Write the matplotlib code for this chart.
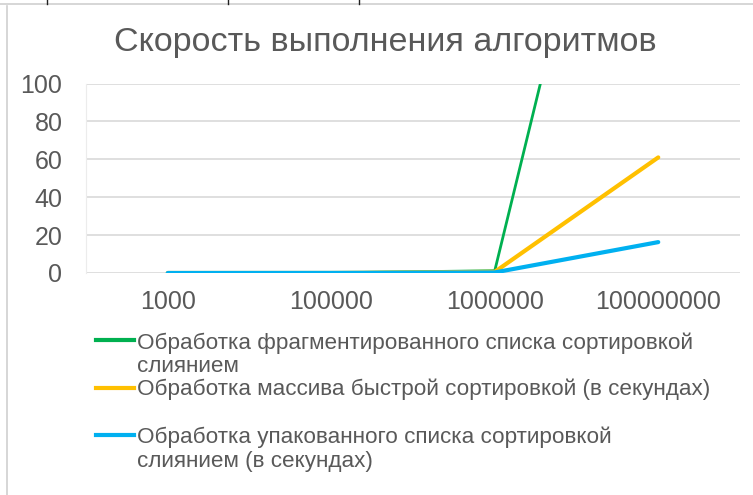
import matplotlib.pyplot as plt
from matplotlib.lines import Line2D
from matplotlib import font_manager

names = {f.name for f in font_manager.fontManager.ttflist}
font = 'Liberation Sans Narrow' if 'Liberation Sans Narrow' in names else 'Liberation Sans'
plt.rcParams['font.family'] = [font, 'DejaVu Sans']

categories = ['1000', '100000', '1000000', '100000000']
fragmented = [0.01, 0.1, 1.2, 355]
quicksort = [0.001, 0.02, 0.6, 61]
packed = [0.005, 0.05, 0.3, 16.3]
labels = [['Обработка фрагментированного списка сортировкой', 'слиянием'],
          ['Обработка массива быстрой сортировкой (в секундах)'],
          ['Обработка упакованного списка сортировкой', 'слиянием (в секундах)']]
colors = ['#00B050', '#FFC000', '#00B0F0']
widths = [2.0, 3.0, 3.0]

W, H = 753, 495
fig = plt.figure(figsize=(W / 100, H / 100), dpi=100)
ax = fig.add_axes([86 / W, 1 - 273 / H, (740 - 86) / W, (273 - 83.5) / H])

x = range(len(categories))
for vals, c, lw in zip([fragmented, quicksort, packed], colors, widths):
    ax.plot(x, vals, color=c, lw=lw, solid_capstyle='round')

ax.set_xlim(-0.5, len(categories) - 0.5)
ax.set_ylim(0, 100)
ax.set_yticks(range(0, 101, 20))
ax.grid(axis='y', color='#d9d9d9', lw=1.2)
ax.set_axisbelow(True)
for s in ax.spines.values():
    s.set_visible(False)
ax.spines['left'].set_visible(True)
ax.spines['left'].set_color('#ececec')
ax.set_xticks(list(x))
ax.set_xticklabels(categories)
ax.tick_params(length=0, labelsize=18, colors='#595959', pad=12)
ax.tick_params(axis='y', pad=17)

fig.text(385 / W, 1 - 42 / H, 'Скорость выполнения алгоритмов', ha='center', va='center',
         fontsize=24.5, color='#595959')

# legend drawn by hand (handles sit on first text line)
handle_y = [340, 387.5, 435]
text_y = [[343, 367], [389], [437, 461]]
for hy, lines, ty, c in zip(handle_y, labels, text_y, colors):
    fig.add_artist(Line2D([96 / W, 134 / W], [1 - hy / H, 1 - hy / H], color=c, lw=3,
                          transform=fig.transFigure))
    for line, y in zip(lines, ty):
        fig.text(137 / W, 1 - y / H, line, ha='left', va='center', fontsize=16.2,
                 color='#595959')

# sheet borders around the chart
fig.add_artist(Line2D([7 / W, 7 / W], [0, 1 - 6 / H], color='#d0d0d0', lw=1.2, transform=fig.transFigure))
fig.add_artist(Line2D([0, 1], [1 - 4 / H, 1 - 4 / H], color='#d0d0d0', lw=1.2, transform=fig.transFigure))
for xv in [47, 228, 359]:
    fig.add_artist(Line2D([xv / W, xv / W], [1 - 4 / H, 1], color='#202020', lw=1, transform=fig.transFigure))

fig.savefig('out.png', dpi=100)
